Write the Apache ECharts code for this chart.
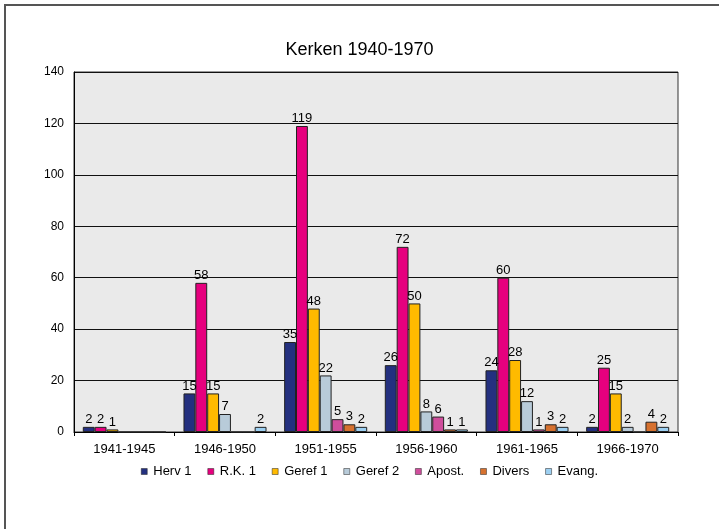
<!DOCTYPE html>
<html>
<head>
<meta charset="utf-8">
<script src="https://cdn.jsdelivr.net/npm/echarts@6/dist/echarts.min.js"></script>
<style>
html,body{margin:0;padding:0;background:#fff;}
#chart{width:719px;height:529px;}
</style>
</head>
<body>
<div id="chart"></div>
<script>
var categories = ['1941-1945','1946-1950','1951-1955','1956-1960','1961-1965','1966-1970'];
var seriesNames = ['Herv 1','R.K. 1','Geref 1','Geref 2','Apost.','Divers','Evang.'];
var herv1  = [2, 15, 35, 26, 24, 2];
var rk1    = [2, 58, 119, 72, 60, 25];
var geref1 = [1, 15, 48, 50, 28, 15];
var geref2 = [0, 7, 22, 8, 12, 2];
var apost  = [0, 0, 5, 6, 1, 0];
var divers = [0, 0, 3, 1, 3, 4];
var evang  = [0, 2, 2, 1, 2, 2];
var yTicks = [0, 20, 40, 60, 80, 100, 120, 140];

var values = [herv1, rk1, geref1, geref2, apost, divers, evang];
var colors = ['#24307F','#E6007E','#FFBA00','#B8CBD9','#CF4E9C','#D6712F','#9DD0F2'];

var chart = echarts.init(document.getElementById('chart'), null, {renderer:'canvas'});
var font = 'Liberation Sans, Arial, sans-serif';

var series = seriesNames.map(function(name, i){
  return {
    name: name,
    type: 'bar',
    data: values[i],
    barGap: '0%',
    barCategoryGap: '17.5%',
    itemStyle: {color: colors[i], borderColor: '#222', borderWidth: 1},
    label: {
      show: true,
      position: 'top',
      distance: 1,
      color: '#000',
      fontFamily: font,
      fontSize: 13,
      formatter: function(p){ return p.value ? String(p.value) : ''; }
    }
  };
});

chart.setOption({
  animation: false,
  backgroundColor: '#fff',
  title: {
    text: 'Kerken 1940-1970',
    left: 'center',
    top: 41,
    padding: 0,
    textStyle: {fontFamily: font, fontSize: 18, fontWeight: 'normal', color: '#000'}
  },
  legend: {
    data: seriesNames.map(function(n, i){ return {name: n, icon: 'rect', itemStyle: {color: colors[i], borderColor: '#222', borderWidth: 0.5}}; }),
    left: 141,
    top: 465,
    itemWidth: 6,
    itemHeight: 6,
    itemGap: 16,
    padding: 0,
    textStyle: {fontFamily: font, fontSize: 13, color: '#000', padding: [0,0,0,1]}
  },
  graphic: [{
    type: 'rect',
    shape: {x: 5, y: 5, width: 800, height: 600},
    style: {fill: 'none', stroke: '#555', lineWidth: 2},
    silent: true
  }],
  grid: {
    left: 74, right: 41, top: 72, bottom: 97,
    show: true,
    backgroundColor: '#EAEAEA',
    borderColor: '#333',
    borderWidth: 1
  },
  xAxis: {
    type: 'category',
    data: categories,
    axisLine: {lineStyle: {color: '#000', width: 1}},
    axisTick: {show: true, length: 4, lineStyle: {color: '#000'}},
    axisLabel: {fontFamily: font, fontSize: 13, color: '#000', margin: 11},
    splitLine: {show: false}
  },
  yAxis: {
    type: 'value',
    min: yTicks[0],
    max: yTicks[yTicks.length-1],
    interval: yTicks[1] - yTicks[0],
    axisLine: {show: true, lineStyle: {color: '#000'}},
    axisTick: {show: false},
    axisLabel: {fontFamily: font, fontSize: 12, color: '#000', margin: 10},
    splitLine: {show: true, lineStyle: {color: '#111', width: 1}}
  },
  series: series
});
</script>
</body>
</html>
